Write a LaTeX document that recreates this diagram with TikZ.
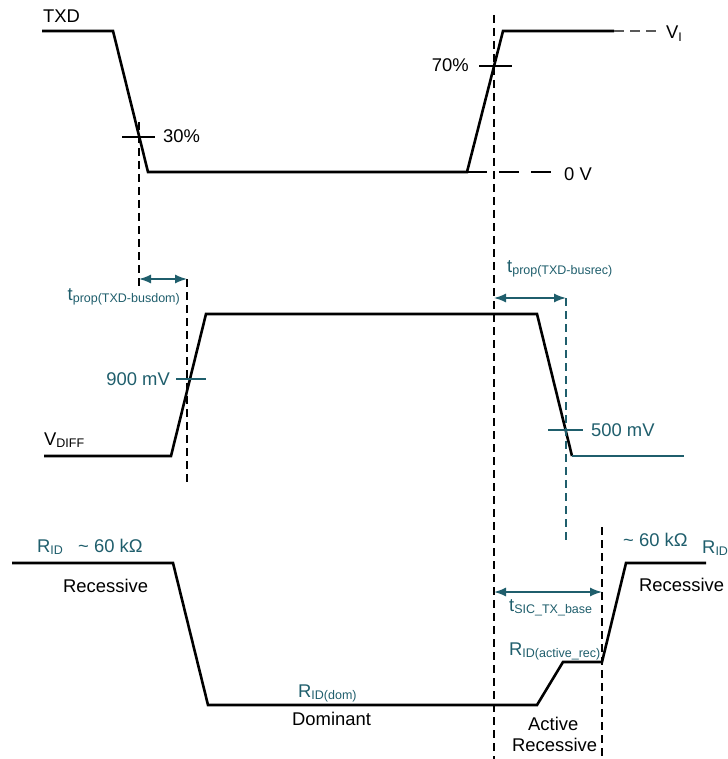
\documentclass[tikz,border=0pt]{standalone}
\usepackage{fontspec}
\setmainfont{Liberation Sans}
\usetikzlibrary{calc}
\usetikzlibrary{arrows.meta}
\definecolor{sicteal}{HTML}{1F5E6C}
\tikzset{>={Latex[length=12pt,width=9pt]}}
\tikzstyle{signal}=[line width=2.6pt,line join=miter]
\tikzstyle{guide}=[line width=1.2pt,dash pattern=on 8pt off 5pt]
\tikzstyle{tick}=[line width=1.2pt]
\tikzstyle{delay}=[line width=1.5pt,draw=sicteal,<->]
\tikzstyle{lbl}=[inner sep=0pt,anchor=base west,font=\fontsize{18.4}{22}\selectfont]
\tikzstyle{tlbl}=[lbl,text=sicteal]
\newcommand{\lowsub}[1]{\raisebox{-2.5pt}{\fontsize{12.5}{14}\selectfont #1}}

\begin{document}
\begin{tikzpicture}[x=1pt,y=-1pt]
	\useasboundingbox (0,0) rectangle (727,759);

	% TXD trace
	\draw[signal] (42,31) -- (113,31) -- (148,172) -- (467,172) -- (503,31) -- (614,31);
	\draw[line width=1.8pt,draw=black!65,dash pattern=on 10pt off 6pt] (614,31) -- (662,31); % V_I level
	\draw[line width=2.6pt,dash pattern=on 20pt off 12pt] (467,172) -- (551,172); % 0 V level

	% VDIFF trace
	\draw[signal] (44,456) -- (171,456) -- (206,314) -- (537,314) -- (572,456);
	\draw[signal,draw=sicteal] (572,456) -- (684,456);

	% RID trace
	\draw[signal] (12,563) -- (173,563) -- (208,705) -- (537,705) -- (563,662) -- (602,662) -- (626,563) -- (706,563);

	% Threshold crossings
	\coordinate (c30) at (139,137);
	\coordinate (c70) at (494,66);
	\coordinate (c900) at (188,379);
	\coordinate (c500) at (566,430);
	\draw[tick] ($(c30)+(-17,0)$) -- ($(c30)+(16,0)$);
	\draw[tick] ($(c70)+(-15,0)$) -- ($(c70)+(18,0)$);
	\draw[tick,draw=sicteal] ($(c900)+(-12,0)$) -- ($(c900)+(18,0)$);
	\draw[tick,draw=sicteal] ($(c500)+(-18,0)$) -- ($(c500)+(17,0)$);

	% Guide lines
	\coordinate (g1a) at (139,122); \coordinate (g1b) at (139,290);
	\coordinate (g2a) at (494,15);  \coordinate (g2b) at (494,759);
	\coordinate (g3a) at (187,279); \coordinate (g3b) at (187,485);
	\coordinate (g4a) at (566,298); \coordinate (g4b) at (566,543);
	\coordinate (g5a) at (602,527); \coordinate (g5b) at (602,759);
	\draw[guide] (g1a) -- (g1b);
	\draw[guide] (g2a) -- (g2b);
	\draw[guide] (g3a) -- (g3b);
	\draw[guide,draw=sicteal] (g4a) -- (g4b);
	\draw[guide] (g5a) -- (g5b);

	% Delay arrows
	\draw[delay] (g1a |- g3a) -- (g3a);
	\draw[delay] (g2a |- g4a) -- (g4a);
	\draw[delay] (g2a |- 0,592) coordinate (d3a) -- (d3a -| g5a);

	% Labels, TXD
	\node[lbl] (txd) at (43,23) {TXD};
	\node[lbl] (p30) at (163,143) {30\%};
	\node[lbl,anchor=base east] (p70) at (469,72) {70\%};
	\node[lbl] (vi) at (666,39) {V\lowsub{I}};
	\node[lbl] (zero) at (564,181) {0 V};

	% Labels, VDIFF
	\node[tlbl,anchor=base east] (tdom) at (180,300) {t\lowsub{prop(TXD-busdom)}};
	\node[tlbl,anchor=base east] (mv900) at (170,385) {900 mV};
	\node[lbl] (vdiff) at (44,445) {V\lowsub{DIFF}};
	\node[tlbl] (trec) at (507,272) {t\lowsub{prop(TXD-busrec)}};
	\node[tlbl] (mv500) at (591,436) {500 mV};

	% Labels, RID
	\node[tlbl] (rid1) at (37,552) {R\lowsub{ID}};
	\node[tlbl] (ohm1) at (78,552) {\textasciitilde{} 60 kΩ};
	\node[lbl] (rec1) at (63,592) {Recessive};
	\node[tlbl] (riddom) at (298,697) {R\lowsub{ID(dom)}};
	\node[lbl] (dom) at (292,725) {Dominant};
	\node[tlbl] (tsic) at (509,611) {t\lowsub{SIC\_TX\_base}};
	\node[tlbl] (ridact) at (509,655) {R\lowsub{ID(active\_rec)}};
	\node[lbl] (act1) at (528,730) {Active};
	\node[lbl] (act2) at (512,751) {Recessive};
	\node[tlbl] (ohm2) at (623,546) {\textasciitilde{} 60 kΩ};
	\node[tlbl] (rid2) at (702,553) {R\lowsub{ID}};
	\node[lbl] (rec2) at (639,591) {Recessive};
\end{tikzpicture}
\end{document}
